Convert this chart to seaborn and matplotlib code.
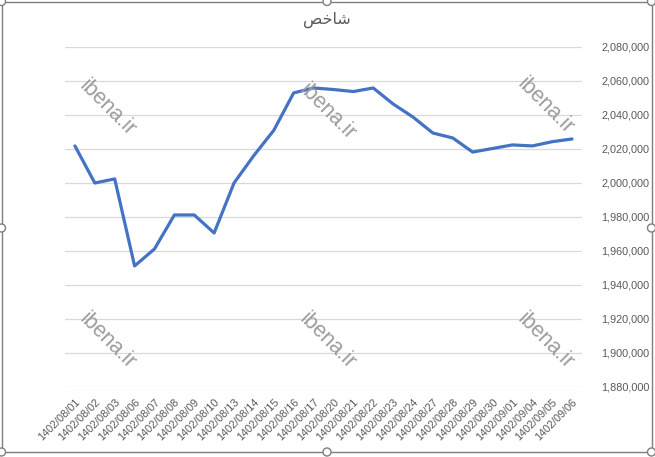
import pandas as pd
import matplotlib.pyplot as plt
import seaborn as sns
from matplotlib.patches import Rectangle, Circle
from matplotlib.ticker import FuncFormatter

# data
dates = ['1402/08/01', '1402/08/02', '1402/08/03', '1402/08/06', '1402/08/07',
         '1402/08/08', '1402/08/09', '1402/08/10', '1402/08/13', '1402/08/14',
         '1402/08/15', '1402/08/16', '1402/08/17', '1402/08/20', '1402/08/21',
         '1402/08/22', '1402/08/23', '1402/08/24', '1402/08/27', '1402/08/28',
         '1402/08/29', '1402/08/30', '1402/09/01', '1402/09/04', '1402/09/05',
         '1402/09/06']
index_values = [2021800, 2000000, 2002400, 1951200, 1961200,
                1981200, 1981200, 1970600, 2000000, 2016200,
                2031000, 2053000, 2055900, 2055000, 2053800,
                2055900, 2046500, 2038800, 2029400, 2026500,
                2018200, 2020300, 2022400, 2021800, 2024300,
                2025900]
y_ticks = list(range(1880000, 2080001, 20000))

title_text = 'شاخص'
# hand-shaped presentation forms so the Persian word joins correctly
title_shaped = '\uFEBA\uFEA7\uFE8E\uFEB7'

df = pd.DataFrame({'date': dates, 'value': index_values})

sns.set_style('white')
plt.rcParams['font.family'] = ['Liberation Sans', 'DejaVu Sans']

fig = plt.figure(figsize=(6.55, 4.57), dpi=100)
ax = fig.add_axes([65 / 655, 1 - 387 / 457, 517 / 655, 340 / 457])

sns.lineplot(data=df, x='date', y='value', sort=False, color='#4472C4',
             linewidth=2.3, ax=ax)

ax.set_xlim(-0.5, len(dates) - 0.5)
ax.set_ylim(y_ticks[0], y_ticks[-1])
ax.set_yticks(y_ticks)
ax.yaxis.set_major_formatter(FuncFormatter(lambda v, p: f'{int(v):,}'))
ax.yaxis.tick_right()
ax.tick_params(axis='y', length=0, pad=14, labelsize=7.8, labelcolor='#595959')
ax.tick_params(axis='x', length=0, pad=7, labelsize=7.8, labelcolor='#595959')
ax.set_xticks(range(len(dates)))
ax.set_xticklabels(dates, rotation=45, ha='right', rotation_mode='anchor')
ax.grid(axis='y', color='#d9d9d9', linewidth=0.9)
ax.grid(axis='x', visible=False)
ax.set_xlabel('')
ax.set_ylabel('')
for s in ax.spines.values():
    s.set_visible(False)

fig.text(327 / 655, 1 - 20 / 457, title_shaped, ha='center', va='center',
         fontsize=11.5, color='#595959', family=['DejaVu Sans'])

# watermarks
for wx, wy in [(107, 108), (327, 112), (545, 106),
               (107, 341), (327, 341), (545, 341)]:
    fig.text(wx / 655, 1 - wy / 457, 'ibena.ir', rotation=-45, ha='center',
             va='center', fontsize=15.5, color='#9c9c9c',
             family=['Liberation Sans'])

# chart area border and selection handles
fig.patches.append(Rectangle((1.5 / 655, 5 / 457), 650 / 655, 450 / 457,
                             transform=fig.transFigure, fill=False,
                             edgecolor='#7f7f7f', linewidth=1.0))
for hx, hy in [(1.5, 1.5), (327, 1.5), (651.5, 1.5), (1.5, 228), (651.5, 228),
               (1.5, 452), (327, 452), (651.5, 452)]:
    fig.patches.append(Circle((hx, 457 - hy), 4, transform=None,
                              facecolor='white', edgecolor='#7f7f7f',
                              linewidth=1.0, clip_on=False))

fig.savefig('out.png', dpi=100, facecolor='white')
